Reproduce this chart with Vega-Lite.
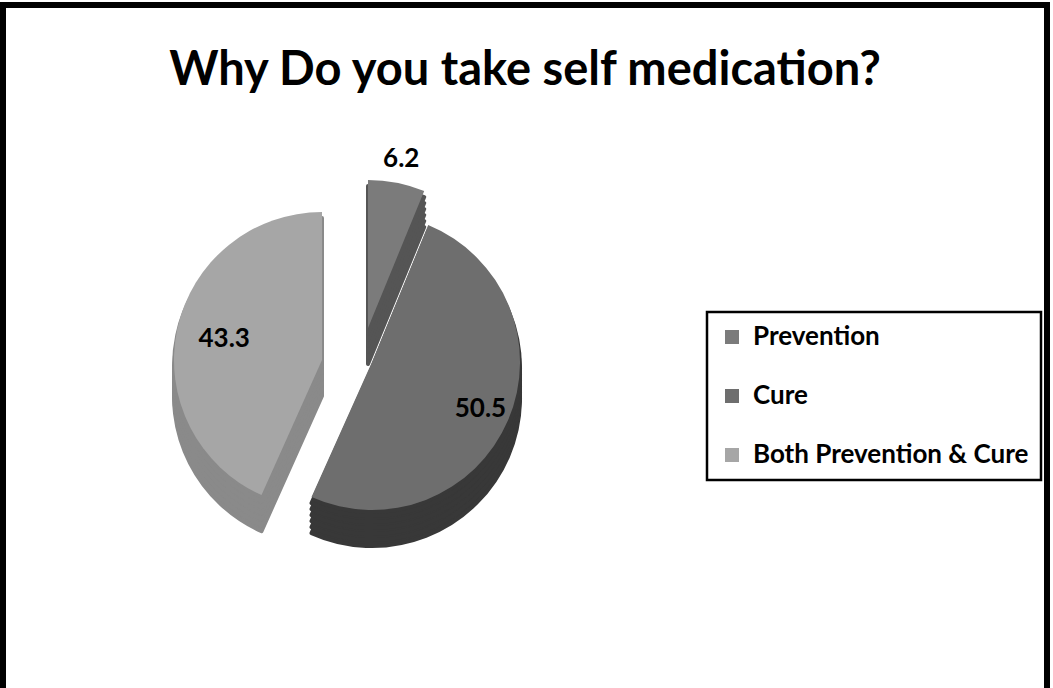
{
  "$schema": "https://vega.github.io/schema/vega-lite/v6.json",
  "width": 1044,
  "height": 690,
  "autosize": "none",
  "padding": {"left": 3, "top": 5, "right": 6, "bottom": 0},
  "background": "white",
  "title": {"text": "Why Do you take self medication?", "font": "Lato", "fontSize": 47, "fontWeight": "bold", "color": "black", "anchor": "middle", "offset": -93},
  "config": {
    "view": {"stroke": null},
    "legend": {"orient": "none", "legendX": 704, "legendY": 307, "title": null, "labelFont": "Lato", "labelFontSize": 26, "labelFontWeight": "bold", "labelColor": "black", "labelLimit": 0, "symbolType": "square", "symbolSize": 196, "symbolStrokeWidth": 0, "labelOffset": 8, "rowPadding": 33, "strokeColor": "black", "strokeWidth": 2.5, "fillColor": "white", "padding": 12, "cornerRadius": 0}
  },
  "data": {"values": [
    {"category": "Prevention", "value": 6.2, "order": 1},
    {"category": "Cure", "value": 50.5, "order": 2},
    {"category": "Both Prevention & Cure", "value": 43.3, "order": 3}
  ]},
  "transform": [
    {"stack": "value", "groupby": [], "sort": [{"field": "order", "order": "ascending"}], "as": ["v0", "v1"]}
  ],
  "layer": [
    {"mark": {"type": "rect", "fill": "transparent", "stroke": "black", "strokeWidth": 6}, "encoding": {}},

    {"transform": [{"filter": "datum.category === 'Prevention'"}], "mark": {"type": "arc", "radius": 148, "xOffset": -157, "yOffset": 14, "color": "#555555", "stroke": "#555555", "strokeWidth": 4, "strokeJoin": "round"}, "encoding": {"theta": {"field": "v0", "type": "quantitative", "scale": {"domain": [0, 100]}}, "theta2": {"field": "v1"}}},
    {"transform": [{"filter": "datum.category === 'Prevention'"}], "mark": {"type": "arc", "radius": 148, "xOffset": -157, "yOffset": 8, "color": "#555555", "stroke": "#555555", "strokeWidth": 4, "strokeJoin": "round"}, "encoding": {"theta": {"field": "v0", "type": "quantitative", "scale": {"domain": [0, 100]}}, "theta2": {"field": "v1"}}},
    {"transform": [{"filter": "datum.category === 'Prevention'"}], "mark": {"type": "arc", "radius": 148, "xOffset": -157, "yOffset": 2, "color": "#555555", "stroke": "#555555", "strokeWidth": 4, "strokeJoin": "round"}, "encoding": {"theta": {"field": "v0", "type": "quantitative", "scale": {"domain": [0, 100]}}, "theta2": {"field": "v1"}}},
    {"transform": [{"filter": "datum.category === 'Prevention'"}], "mark": {"type": "arc", "radius": 148, "xOffset": -157, "yOffset": -4, "color": "#555555", "stroke": "#555555", "strokeWidth": 4, "strokeJoin": "round"}, "encoding": {"theta": {"field": "v0", "type": "quantitative", "scale": {"domain": [0, 100]}}, "theta2": {"field": "v1"}}},
    {"transform": [{"filter": "datum.category === 'Prevention'"}], "mark": {"type": "arc", "radius": 148, "xOffset": -157, "yOffset": -10, "color": "#555555", "stroke": "#555555", "strokeWidth": 4, "strokeJoin": "round"}, "encoding": {"theta": {"field": "v0", "type": "quantitative", "scale": {"domain": [0, 100]}}, "theta2": {"field": "v1"}}},
    {"transform": [{"filter": "datum.category === 'Prevention'"}], "mark": {"type": "arc", "radius": 148, "xOffset": -157, "yOffset": -16, "color": "#555555", "stroke": "#555555", "strokeWidth": 4, "strokeJoin": "round"}, "encoding": {"theta": {"field": "v0", "type": "quantitative", "scale": {"domain": [0, 100]}}, "theta2": {"field": "v1"}}},

    {"transform": [{"filter": "datum.category === 'Cure'"}], "mark": {"type": "arc", "radius": 148, "xOffset": -153, "yOffset": 48, "color": "#383838", "stroke": "#383838", "strokeWidth": 4, "strokeJoin": "round"}, "encoding": {"theta": {"field": "v0", "type": "quantitative", "scale": {"domain": [0, 100]}}, "theta2": {"field": "v1"}}},
    {"transform": [{"filter": "datum.category === 'Cure'"}], "mark": {"type": "arc", "radius": 148, "xOffset": -153, "yOffset": 42, "color": "#383838", "stroke": "#383838", "strokeWidth": 4, "strokeJoin": "round"}, "encoding": {"theta": {"field": "v0", "type": "quantitative", "scale": {"domain": [0, 100]}}, "theta2": {"field": "v1"}}},
    {"transform": [{"filter": "datum.category === 'Cure'"}], "mark": {"type": "arc", "radius": 148, "xOffset": -153, "yOffset": 36, "color": "#383838", "stroke": "#383838", "strokeWidth": 4, "strokeJoin": "round"}, "encoding": {"theta": {"field": "v0", "type": "quantitative", "scale": {"domain": [0, 100]}}, "theta2": {"field": "v1"}}},
    {"transform": [{"filter": "datum.category === 'Cure'"}], "mark": {"type": "arc", "radius": 148, "xOffset": -153, "yOffset": 30, "color": "#383838", "stroke": "#383838", "strokeWidth": 4, "strokeJoin": "round"}, "encoding": {"theta": {"field": "v0", "type": "quantitative", "scale": {"domain": [0, 100]}}, "theta2": {"field": "v1"}}},
    {"transform": [{"filter": "datum.category === 'Cure'"}], "mark": {"type": "arc", "radius": 148, "xOffset": -153, "yOffset": 24, "color": "#383838", "stroke": "#383838", "strokeWidth": 4, "strokeJoin": "round"}, "encoding": {"theta": {"field": "v0", "type": "quantitative", "scale": {"domain": [0, 100]}}, "theta2": {"field": "v1"}}},
    {"transform": [{"filter": "datum.category === 'Cure'"}], "mark": {"type": "arc", "radius": 148, "xOffset": -153, "yOffset": 18, "color": "#383838", "stroke": "#383838", "strokeWidth": 4, "strokeJoin": "round"}, "encoding": {"theta": {"field": "v0", "type": "quantitative", "scale": {"domain": [0, 100]}}, "theta2": {"field": "v1"}}},

    {"transform": [{"filter": "datum.category === 'Both Prevention & Cure'"}], "mark": {"type": "arc", "radius": 148, "xOffset": -203, "yOffset": 46, "color": "#8a8a8a", "stroke": "#8a8a8a", "strokeWidth": 4, "strokeJoin": "round"}, "encoding": {"theta": {"field": "v0", "type": "quantitative", "scale": {"domain": [0, 100]}}, "theta2": {"field": "v1"}}},
    {"transform": [{"filter": "datum.category === 'Both Prevention & Cure'"}], "mark": {"type": "arc", "radius": 148, "xOffset": -203, "yOffset": 40, "color": "#8a8a8a", "stroke": "#8a8a8a", "strokeWidth": 4, "strokeJoin": "round"}, "encoding": {"theta": {"field": "v0", "type": "quantitative", "scale": {"domain": [0, 100]}}, "theta2": {"field": "v1"}}},
    {"transform": [{"filter": "datum.category === 'Both Prevention & Cure'"}], "mark": {"type": "arc", "radius": 148, "xOffset": -203, "yOffset": 34, "color": "#8a8a8a", "stroke": "#8a8a8a", "strokeWidth": 4, "strokeJoin": "round"}, "encoding": {"theta": {"field": "v0", "type": "quantitative", "scale": {"domain": [0, 100]}}, "theta2": {"field": "v1"}}},
    {"transform": [{"filter": "datum.category === 'Both Prevention & Cure'"}], "mark": {"type": "arc", "radius": 148, "xOffset": -203, "yOffset": 28, "color": "#8a8a8a", "stroke": "#8a8a8a", "strokeWidth": 4, "strokeJoin": "round"}, "encoding": {"theta": {"field": "v0", "type": "quantitative", "scale": {"domain": [0, 100]}}, "theta2": {"field": "v1"}}},
    {"transform": [{"filter": "datum.category === 'Both Prevention & Cure'"}], "mark": {"type": "arc", "radius": 148, "xOffset": -203, "yOffset": 22, "color": "#8a8a8a", "stroke": "#8a8a8a", "strokeWidth": 4, "strokeJoin": "round"}, "encoding": {"theta": {"field": "v0", "type": "quantitative", "scale": {"domain": [0, 100]}}, "theta2": {"field": "v1"}}},
    {"transform": [{"filter": "datum.category === 'Both Prevention & Cure'"}], "mark": {"type": "arc", "radius": 148, "xOffset": -203, "yOffset": 16, "color": "#8a8a8a", "stroke": "#8a8a8a", "strokeWidth": 4, "strokeJoin": "round"}, "encoding": {"theta": {"field": "v0", "type": "quantitative", "scale": {"domain": [0, 100]}}, "theta2": {"field": "v1"}}},

    {"transform": [{"filter": "datum.category === 'Prevention'"}], "mark": {"type": "arc", "radius": 148, "xOffset": -157, "yOffset": -22}, "encoding": {"theta": {"field": "v0", "type": "quantitative", "scale": {"domain": [0, 100]}}, "theta2": {"field": "v1"}, "color": {"field": "category", "type": "nominal", "scale": {"domain": ["Prevention", "Cure", "Both Prevention & Cure"], "range": ["#7b7b7b", "#6e6e6e", "#a6a6a6"]}}}},
    {"transform": [{"filter": "datum.category === 'Cure'"}], "mark": {"type": "arc", "radius": 148, "xOffset": -153, "yOffset": 12}, "encoding": {"theta": {"field": "v0", "type": "quantitative", "scale": {"domain": [0, 100]}}, "theta2": {"field": "v1"}, "color": {"field": "category", "type": "nominal", "scale": {"domain": ["Prevention", "Cure", "Both Prevention & Cure"], "range": ["#7b7b7b", "#6e6e6e", "#a6a6a6"]}}}},
    {"transform": [{"filter": "datum.category === 'Both Prevention & Cure'"}], "mark": {"type": "arc", "radius": 148, "xOffset": -203, "yOffset": 10}, "encoding": {"theta": {"field": "v0", "type": "quantitative", "scale": {"domain": [0, 100]}}, "theta2": {"field": "v1"}, "color": {"field": "category", "type": "nominal", "scale": {"domain": ["Prevention", "Cure", "Both Prevention & Cure"], "range": ["#7b7b7b", "#6e6e6e", "#a6a6a6"]}}}},

    {"mark": {"type": "text", "radius": 172, "xOffset": -157, "yOffset": -22, "font": "Lato", "fontSize": 26, "fontWeight": "bold", "color": "black"}, "encoding": {"theta": {"field": "value", "type": "quantitative", "stack": true, "scale": {"domain": [0, 100]}}, "order": {"field": "order"}, "text": {"condition": {"test": "datum.category === 'Prevention'", "field": "value", "type": "quantitative", "format": ".1f"}, "value": ""}}},
    {"mark": {"type": "text", "radius": 118, "xOffset": -153, "yOffset": 12, "font": "Lato", "fontSize": 26, "fontWeight": "bold", "color": "black"}, "encoding": {"theta": {"field": "value", "type": "quantitative", "stack": true, "scale": {"domain": [0, 100]}}, "order": {"field": "order"}, "text": {"condition": {"test": "datum.category === 'Cure'", "field": "value", "type": "quantitative", "format": ".1f"}, "value": ""}}},
    {"mark": {"type": "text", "radius": 100, "xOffset": -203, "yOffset": 10, "font": "Lato", "fontSize": 26, "fontWeight": "bold", "color": "black"}, "encoding": {"theta": {"field": "value", "type": "quantitative", "stack": true, "scale": {"domain": [0, 100]}}, "order": {"field": "order"}, "text": {"condition": {"test": "datum.category === 'Both Prevention & Cure'", "field": "value", "type": "quantitative", "format": ".1f"}, "value": ""}}}
  ]
}
